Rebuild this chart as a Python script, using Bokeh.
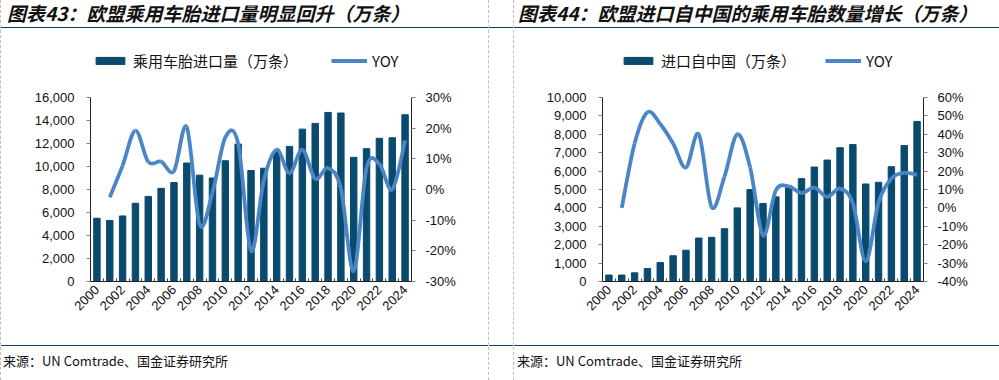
import math
from bokeh.plotting import figure
from bokeh.models import (Range1d, LinearAxis, FixedTicker, NumeralTickFormatter,
                          PrintfTickFormatter, Legend, LegendItem, Div)
from bokeh.layouts import row, column
from bokeh.embed import file_html
from bokeh.resources import INLINE

# ---------------- data ----------------
years = list(range(2000, 2025))
year_labels = [str(y) for y in range(2000, 2025, 2)]

eu_imports = [5500, 5300, 5700, 6800, 7400, 8100, 8600, 10300, 9250, 9000, 10500, 11950,
              9650, 9850, 11300, 11750, 13250, 13750, 14700, 14650, 10800, 11550, 12450,
              12500, 14500]
eu_yoy = [None, -2.5, 7.8, 19.2, 9.0, 9.1, 6.0, 20.3, -11.4, -1.0, 17.0, 15.0, -20.0, 3.0,
          13.0, 5.3, 13.0, 3.5, 7.0, 0.3, -26.6, 7.0, 8.3, 0.0, 16.0]

cn_imports = [350, 350, 470, 700, 1030, 1400, 1700, 2360, 2400, 2870, 4000, 5000, 4240,
              4600, 5100, 5590, 6220, 6600, 7270, 7440, 5300, 5390, 6240, 7390, 8700]
cn_yoy = [None, 0.0, 35.0, 52.0, 45.6, 35.0, 22.0, 40.0, 0.5, 17.0, 40.0, 22.0, -15.0, 9.5,
          11.7, 8.0, 11.0, 6.0, 10.5, 2.4, -29.0, 3.0, 16.0, 19.0, 18.0]

left_title = "图表43：欧盟乘用车胎进口量明显回升（万条）"
right_title = "图表44：欧盟进口自中国的乘用车胎数量增长（万条）"
left_bar_label = "乘用车胎进口量（万条）"
right_bar_label = "进口自中国（万条）"
line_label = "YOY"
source_text = "来源：UN Comtrade、国金证券研究所"

# ---------------- style / layout ----------------
BAR = "#0A4A6E"
LINE = "#4A86C6"
RULE = "#163F5F"
SEP = "#BFBFBF"
CJK = "Noto Sans CJK SC"
NUM = "Liberation Sans"

TOP_H, CHART_H, BOT_H = 28, 307, 45
EDGE_W, LEFT_W, SEP_W, RIGHT_W = 1, 487, 26, 485
FULL_H = TOP_H + CHART_H + BOT_H
BORDER_TOP, BORDER_BOTTOM = 20, 54          # frame spans legend area + plot area
PLOT_H = 184                                # height of the value area (axis extent)
FRAME_H = CHART_H - BORDER_TOP - BORDER_BOTTOM
SCALE = FRAME_H / PLOT_H


def title_div(w, text, pad):
    return Div(text=text, width=w, height=TOP_H, margin=0,
               styles={"box-sizing": "border-box", "border-bottom": "1.5px solid " + RULE,
                       "font-family": CJK, "font-size": "19px", "font-weight": "bold",
                       "font-style": "italic", "line-height": "26.5px", "color": "#111111",
                       "white-space": "nowrap", "padding-left": "%dpx" % pad,
                       "padding-top": "0px"})


def source_div(w, pad):
    html = ('<div style="box-sizing:border-box;width:%dpx;margin-top:10px;'
            'border-top:1.5px solid %s;padding-top:6px;padding-left:%dpx;'
            'font-family:\'%s\';font-size:13px;line-height:18px;color:#111111;'
            'white-space:nowrap">%s</div>' % (w, RULE, pad, CJK, source_text))
    return Div(text=html, width=w, height=BOT_H, margin=0,
               styles={"box-sizing": "border-box"})


def sep_div():
    inner = SEP_W - 2
    html = ('<div style="box-sizing:border-box;width:%dpx;height:%dpx;'
            'border-bottom:1.5px solid %s"></div>'
            '<div style="width:%dpx;height:%dpx"></div>'
            '<div style="width:%dpx;height:2px;border-top:1.5px solid %s"></div>'
            % (inner, TOP_H, RULE, inner, CHART_H + 10, inner, RULE))
    return Div(text=html, width=SEP_W, height=FULL_H, margin=0,
               styles={"box-sizing": "border-box", "border-left": "1px dashed " + SEP,
                       "border-right": "1px dashed " + SEP, "overflow": "hidden"})


def edge_div():
    return Div(text="", width=EDGE_W, height=FULL_H, margin=0,
               styles={"box-sizing": "border-box", "border-left": "1px dashed " + SEP})


def smooth_segments(xs, ys):
    pts = [(x, y) for x, y in zip(xs, ys) if y is not None]
    n = len(pts)
    d = dict(x0=[], y0=[], x1=[], y1=[], cx0=[], cy0=[], cx1=[], cy1=[])
    for i in range(n - 1):
        p0 = pts[i - 1] if i > 0 else pts[i]
        p1 = pts[i]
        p2 = pts[i + 1]
        p3 = pts[i + 2] if i + 2 < n else pts[i + 1]
        d["x0"].append(p1[0]); d["y0"].append(p1[1])
        d["x1"].append(p2[0]); d["y1"].append(p2[1])
        d["cx0"].append(p1[0] + (p2[0] - p0[0]) / 6.0)
        d["cy0"].append(p1[1] + (p2[1] - p0[1]) / 6.0)
        d["cx1"].append(p2[0] - (p3[0] - p1[0]) / 6.0)
        d["cy1"].append(p2[1] - (p3[1] - p1[1]) / 6.0)
    return d


def style_axis(ax, standoff):
    ax.major_label_text_font = NUM
    ax.major_label_text_font_size = "13px"
    ax.major_label_text_color = "#111111"
    ax.major_label_standoff = standoff
    ax.axis_line_color = "#222222"
    ax.major_tick_line_color = "#808080"
    ax.minor_tick_in = 0
    ax.minor_tick_out = 0


def chart(w, ml, mr, vals, yoy, ymax, ystep, ylo, yhi, bar_label, leg_x, leg_gap):
    p = figure(width=w, height=CHART_H, x_range=Range1d(1999.5, 2024.5),
               y_range=Range1d(0, ymax * SCALE), output_backend="svg",
               toolbar_location=None, title=None, min_border_left=ml, min_border_right=mr,
               min_border_top=BORDER_TOP, min_border_bottom=BORDER_BOTTOM)
    p.outline_line_color = None
    p.grid.visible = False
    p.extra_y_ranges = {"yoy": Range1d(ylo, ylo + (yhi - ylo) * SCALE)}

    bars = p.vbar(x=years, top=vals, width=0.5, fill_color=BAR, line_color=BAR)
    seg = smooth_segments(years, yoy)
    curve = p.bezier(x0=seg["x0"], y0=seg["y0"], x1=seg["x1"], y1=seg["y1"],
                     cx0=seg["cx0"], cy0=seg["cy0"], cx1=seg["cx1"], cy1=seg["cy1"],
                     line_color=LINE, line_width=3.8, y_range_name="yoy")

    xa = p.xaxis[0]
    style_axis(xa, 6)
    xa.ticker = FixedTicker(ticks=[int(t) for t in year_labels],
                            minor_ticks=[y - 0.5 for y in years] + [years[-1] + 0.5])
    xa.major_label_orientation = math.pi / 4
    xa.major_tick_in = 0
    xa.major_tick_out = 0
    xa.minor_tick_in = 3
    xa.minor_tick_out = 0
    xa.minor_tick_line_color = "#404040"

    ya = p.yaxis[0]
    style_axis(ya, 12)
    ya.ticker = FixedTicker(ticks=list(range(0, ymax + 1, ystep)))
    ya.formatter = NumeralTickFormatter(format="0,0")
    ya.major_tick_in = 0
    ya.major_tick_out = 4
    ya.bounds = (0, ymax)

    ra = LinearAxis(y_range_name="yoy",
                    ticker=FixedTicker(ticks=list(range(ylo, yhi + 1, 10))),
                    formatter=PrintfTickFormatter(format="%d%%"), bounds=(ylo, yhi))
    style_axis(ra, 10)
    ra.major_tick_in = 0
    ra.major_tick_out = 4
    p.add_layout(ra, "right")

    legend = Legend(items=[LegendItem(label=bar_label, renderers=[bars]),
                           LegendItem(label=line_label, renderers=[curve])],
                    orientation="horizontal", location=(leg_x, 210),
                    border_line_color=None, background_fill_alpha=0,
                    glyph_width=36, glyph_height=9, label_standoff=5, spacing=leg_gap,
                    padding=0, margin=0, label_height=18,
                    label_text_font=CJK, label_text_font_size="15px",
                    label_text_color="#111111")
    p.add_layout(legend, "center")
    return p


left_chart = chart(LEFT_W, 89, 77, eu_imports, eu_yoy, 16000, 2000, -30, 30,
                   left_bar_label, 2, 33)
right_chart = chart(RIGHT_W, 88, 76, cn_imports, cn_yoy, 10000, 1000, -40, 60,
                    right_bar_label, 18, 29)

left_col = column(title_div(LEFT_W, left_title, 6), left_chart, source_div(LEFT_W, 2),
                  spacing=0)
right_col = column(title_div(RIGHT_W, right_title, 4), right_chart, source_div(RIGHT_W, 3),
                   spacing=0)
layout = row(edge_div(), left_col, sep_div(), right_col, spacing=0)

open("out.html", "w").write(file_html(layout, INLINE))
